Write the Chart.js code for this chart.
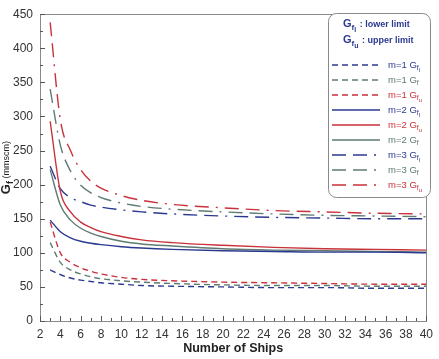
<!DOCTYPE html>
<html><head><meta charset="utf-8">
<script src="https://cdn.jsdelivr.net/npm/chart.js@4/dist/chart.umd.min.js"></script>
<style>html,body{margin:0;padding:0;background:#fff;}canvas{display:block;}</style>
</head><body>
<canvas id="c" width="439" height="359"></canvas>
<script>
const ships = [3,4,5,6,7,8,10,12,15,20,25,30,35,40];
const m1Gfl = [75,68,63,60,58,56,54,52,51,50,49,49,48,48];
const m1Gf  = [115,86,75,69,65,62,59,57,55,53,52,52,51,51];
const m1Gfu = [145,100,86,78,73,69,64,61,59,57,56,55,54,54];
const m2Gfl = [148,131,122,117,114,112,109,107,105,103,102,101,101,100];
const m2Gfu = [293,190,160,145,137,131,124,119,115,111,108,106,105,104];
const m2Gf  = [222,170,148,136,129,124,117,113,110,106,104,103,102,101];
const m3Gfl = [227,194,181,175,170,167,163,160,157,154,152,151,150,150];
const m3Gf  = [340,258,220,199,188,181,173,168,164,160,157,155,154,153];
const m3Gfu = [438,295,250,222,205,195,184,177,171,166,162,160,158,157];
const yTicks = [0,50,100,150,200,250,300,350,400,450];
const xTicks = [2,4,6,8,10,12,14,16,18,20,22,24,26,28,30,32,34,36,38,40];

const NAVY = '#2b3990', RED = '#c8323a', GRAY = '#5f7b72';
const DASH1 = [6,4], DASH3 = [14,7,14,7,2,7];

const seriesDefs = [
  {m:'1', sub:'fl', data:m1Gfl, color:NAVY, dash:DASH1},
  {m:'1', sub:'f',  data:m1Gf,  color:GRAY, dash:DASH1},
  {m:'1', sub:'fu', data:m1Gfu, color:RED,  dash:DASH1},
  {m:'2', sub:'fl', data:m2Gfl, color:NAVY, dash:[]},
  {m:'2', sub:'fu', data:m2Gfu, color:RED,  dash:[]},
  {m:'2', sub:'f',  data:m2Gf,  color:GRAY, dash:[]},
  {m:'3', sub:'fl', data:m3Gfl, color:NAVY, dash:DASH3},
  {m:'3', sub:'f',  data:m3Gf,  color:GRAY, dash:DASH3},
  {m:'3', sub:'fu', data:m3Gfu, color:RED,  dash:DASH3},
];

const datasets = seriesDefs.map(s => ({
  label: 'm=' + s.m + ' G' + s.sub,
  data: ships.map((x,i) => ({x:x, y:s.data[i]})),
  borderColor: s.color,
  borderDash: s.dash,
  borderWidth: 1.4,
  pointRadius: 0,
  fill: false,
  cubicInterpolationMode: 'monotone'
}));

const FONT = '"Liberation Sans", Arial, sans-serif';

function drawG(ctx, x, y, sub, color, big, bold) {
  const b = bold ? 'bold ' : '';
  ctx.fillStyle = color;
  ctx.textBaseline = 'alphabetic';
  ctx.textAlign = 'left';
  ctx.font = b + big + 'px ' + FONT;
  ctx.fillText('G', x, y);
  x += ctx.measureText('G').width;
  ctx.font = b + Math.round(big*0.72) + 'px ' + FONT;
  ctx.fillText('f', x, y + big*0.25);
  x += ctx.measureText('f').width;
  if (sub.length > 1) {
    ctx.font = b + Math.round(big*0.6) + 'px ' + FONT;
    ctx.fillText(sub[1], x, y + big*0.42);
    x += ctx.measureText(sub[1]).width;
  }
  return x;
}

const decor = {
  id: 'decor',
  beforeDatasetsDraw(chart) {
    const ctx = chart.ctx, a = chart.chartArea;
    const xs = chart.scales.x, ys = chart.scales.y;
    ctx.save();
    ctx.strokeStyle = '#8a8a8a';
    ctx.lineWidth = 1;
    ctx.setLineDash([]);
    ctx.strokeRect(Math.round(a.left)+0.5, Math.round(a.top)+0.5, Math.round(a.right-a.left), Math.round(a.bottom-a.top));
    ctx.strokeStyle = '#555';
    ctx.beginPath();
    for (let v = 2; v <= 40; v++) {
      const px = Math.round(xs.getPixelForValue(v)) + 0.5;
      const len = (v % 2 === 0) ? 5 : 3;
      ctx.moveTo(px, a.bottom); ctx.lineTo(px, a.bottom - len);
    }
    for (let v = 0; v <= 450; v += 25) {
      const py = Math.round(ys.getPixelForValue(v)) + 0.5;
      const len = (v % 50 === 0) ? 5 : 3;
      ctx.moveTo(a.left, py); ctx.lineTo(a.left + len, py);
    }
    ctx.stroke();
    ctx.restore();
  },
  afterDraw(chart) {
    const ctx = chart.ctx, a = chart.chartArea;
    ctx.save();
    ctx.fillStyle = '#222';
    ctx.font = 'bold 12.5px ' + FONT;
    ctx.textAlign = 'center';
    ctx.textBaseline = 'middle';
    ctx.fillText('Number of Ships', (a.left + a.right)/2, 349);
    ctx.save();
    ctx.translate(10, (a.top + a.bottom)/2);
    ctx.rotate(-Math.PI/2);
    ctx.textBaseline = 'alphabetic';
    ctx.font = 'bold 13px ' + FONT;
    const wG = ctx.measureText('G').width;
    ctx.font = 'bold 9px ' + FONT;
    const wf = ctx.measureText('f').width;
    ctx.font = '9px ' + FONT;
    const wm = ctx.measureText(' (mmscm)').width;
    let x0 = -(wG + wf + wm)/2;
    ctx.fillStyle = '#222';
    ctx.textAlign = 'left';
    ctx.font = 'bold 13px ' + FONT;
    ctx.fillText('G', x0, 0);
    x0 += wG;
    ctx.font = 'bold 9px ' + FONT;
    ctx.fillText('f', x0, 3);
    x0 += wf;
    ctx.font = '9px ' + FONT;
    ctx.fillText(' (mmscm)', x0, -1);
    ctx.restore();

    const bx = 328, by = 13, bw = 102, bh = 184, r = 8;
    ctx.fillStyle = '#fff';
    ctx.strokeStyle = '#8a8a8a';
    ctx.lineWidth = 1;
    ctx.beginPath();
    ctx.roundRect(bx+0.5, by+0.5, bw, bh, r);
    ctx.fill(); ctx.stroke();
    let ex = drawG(ctx, 343, 27, 'fl', NAVY, 11, true);
    ctx.font = 'bold 9px ' + FONT;
    ctx.fillText(' : lower limit', ex + 1, 27);
    ex = drawG(ctx, 343, 43, 'fu', NAVY, 11, true);
    ctx.font = 'bold 9px ' + FONT;
    ctx.fillText(' : upper limit', ex + 1, 43);
    seriesDefs.forEach((s, i) => {
      const y = 65 + i * 15;
      ctx.strokeStyle = s.color;
      ctx.lineWidth = 1.4;
      ctx.setLineDash(s.dash);
      ctx.beginPath();
      ctx.moveTo(332, y); ctx.lineTo(380, y);
      ctx.stroke();
      ctx.setLineDash([]);
      ctx.fillStyle = s.color;
      ctx.font = '9.5px ' + FONT;
      ctx.textAlign = 'left';
      ctx.textBaseline = 'middle';
      ctx.fillText('m=' + s.m, 388, y);
      const w = ctx.measureText('m=' + s.m + ' ').width;
      ctx.textBaseline = 'alphabetic';
      drawG(ctx, 388 + w, y + 3, s.sub, s.color, 9.5, false);
    });
    ctx.restore();
  }
};

new Chart(document.getElementById('c'), {
  type: 'line',
  data: { datasets },
  options: {
    responsive: false,
    animation: false,
    devicePixelRatio: 1,
    layout: { padding: { left: 0, top: 7, right: 7, bottom: 0 } },
    plugins: { legend: { display: false }, tooltip: { enabled: false } },
    scales: {
      x: {
        type: 'linear', min: 2, max: 40,
        afterBuildTicks: s => { s.ticks = xTicks.map(v => ({value: v})); },
        ticks: { color: '#333', font: { size: 12, family: FONT }, padding: 6, maxRotation: 0, autoSkip: false },
        grid: { display: false, drawTicks: false },
        border: { display: false },
        afterFit: s => { s.height = 38; }
      },
      y: {
        type: 'linear', min: 0, max: 450,
        afterBuildTicks: s => { s.ticks = yTicks.map(v => ({value: v})); },
        ticks: { color: '#333', font: { size: 12, family: FONT }, padding: 7 },
        grid: { display: false, drawTicks: false },
        border: { display: false },
        afterFit: s => { s.width = 40; }
      }
    }
  },
  plugins: [decor]
});
</script>
</body></html>
